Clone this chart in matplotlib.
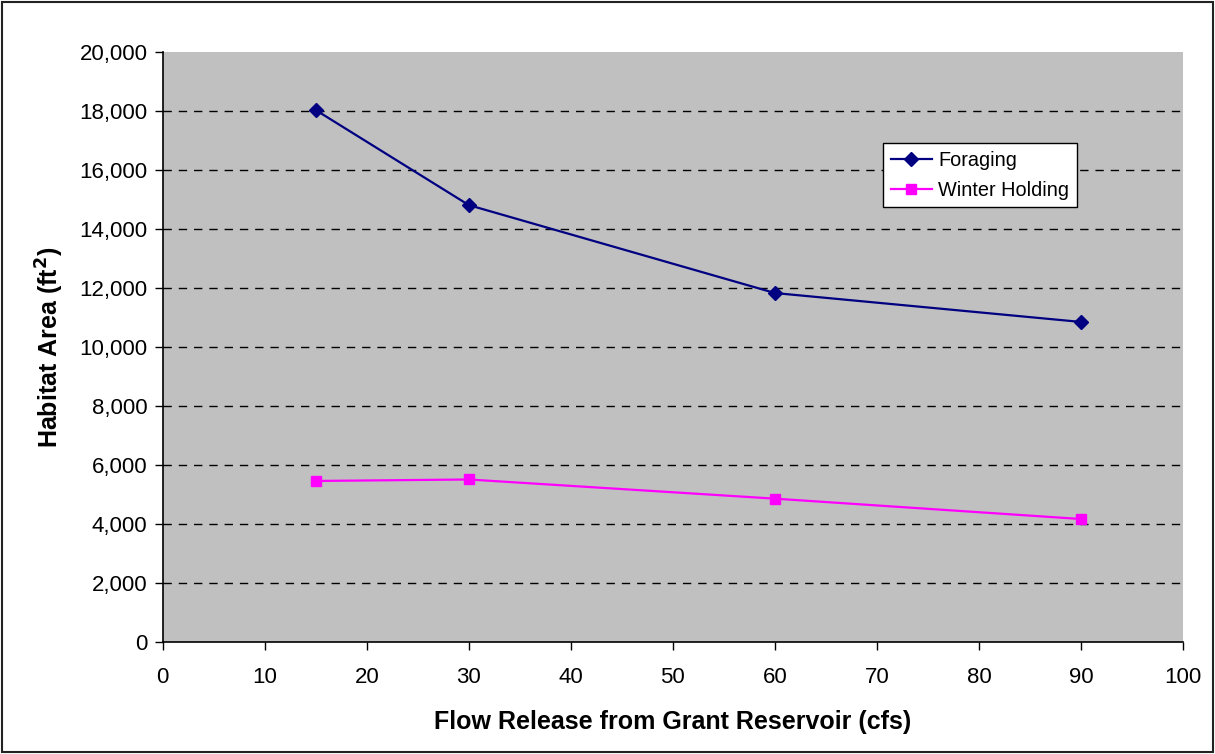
import matplotlib
matplotlib.use("Agg")
import matplotlib.pyplot as plt
from matplotlib.ticker import FuncFormatter, MultipleLocator
from matplotlib.patches import Rectangle

plt.rcParams['font.family'] = ['Liberation Sans', 'DejaVu Sans']

flow_cfs = [15, 30, 60, 90]
foraging = [18030, 14810, 11830, 10850]
winter_holding = [5460, 5510, 4860, 4170]

fig = plt.figure(figsize=(12.15, 7.54), dpi=100)
fig.patch.set_facecolor('white')
fig.patches.append(Rectangle((0.002, 0.002), 0.996, 0.996, transform=fig.transFigure,
                             fill=False, edgecolor='#222222', linewidth=1.5))

ax = fig.add_axes([0.134, 0.1485, 0.8397, 0.7825])
ax.set_facecolor('#c0c0c0')

ax.plot(flow_cfs, foraging, color='#000080', marker='D', markersize=7,
        linewidth=1.6, label='Foraging')
ax.plot(flow_cfs, winter_holding, color='#ff00ff', marker='s', markersize=7,
        linewidth=1.6, label='Winter Holding')

ax.set_xlim(0, 100)
ax.set_ylim(0, 20000)
ax.xaxis.set_major_locator(MultipleLocator(10))
ax.yaxis.set_major_locator(MultipleLocator(2000))
ax.yaxis.set_major_formatter(FuncFormatter(lambda v, p: f"{int(v):,}"))

for y in range(2000, 20000, 2000):
    ax.axhline(y, color='black', linestyle=(0, (6, 5)), linewidth=1.0, zorder=0.5)

for side in ['top', 'right']:
    ax.spines[side].set_visible(False)
for side in ['left', 'bottom']:
    ax.spines[side].set_color('black')
    ax.spines[side].set_linewidth(1.2)

ax.tick_params(axis='both', direction='out', length=6, width=1, labelsize=16,
               colors='black')
ax.tick_params(axis='x', pad=12)
ax.tick_params(axis='y', pad=5)

ax.set_xlabel('Flow Release from Grant Reservoir (cfs)', fontsize=18,
              fontweight='bold', labelpad=16)
ax.set_ylabel('Habitat Area (ft$^{\\mathbf{2}}$)', fontsize=18,
              fontweight='bold', labelpad=10)

leg = ax.legend(loc='upper left', bbox_to_anchor=(0.706, 0.845), fontsize=14.3,
                frameon=True, fancybox=False, edgecolor='black', framealpha=1,
                borderpad=0.38, handlelength=2.1, labelspacing=0.55,
                handletextpad=0.3, borderaxespad=0)
leg.get_frame().set_linewidth(1.0)
leg.get_frame().set_facecolor('white')

fig.savefig('out.png', dpi=100)
